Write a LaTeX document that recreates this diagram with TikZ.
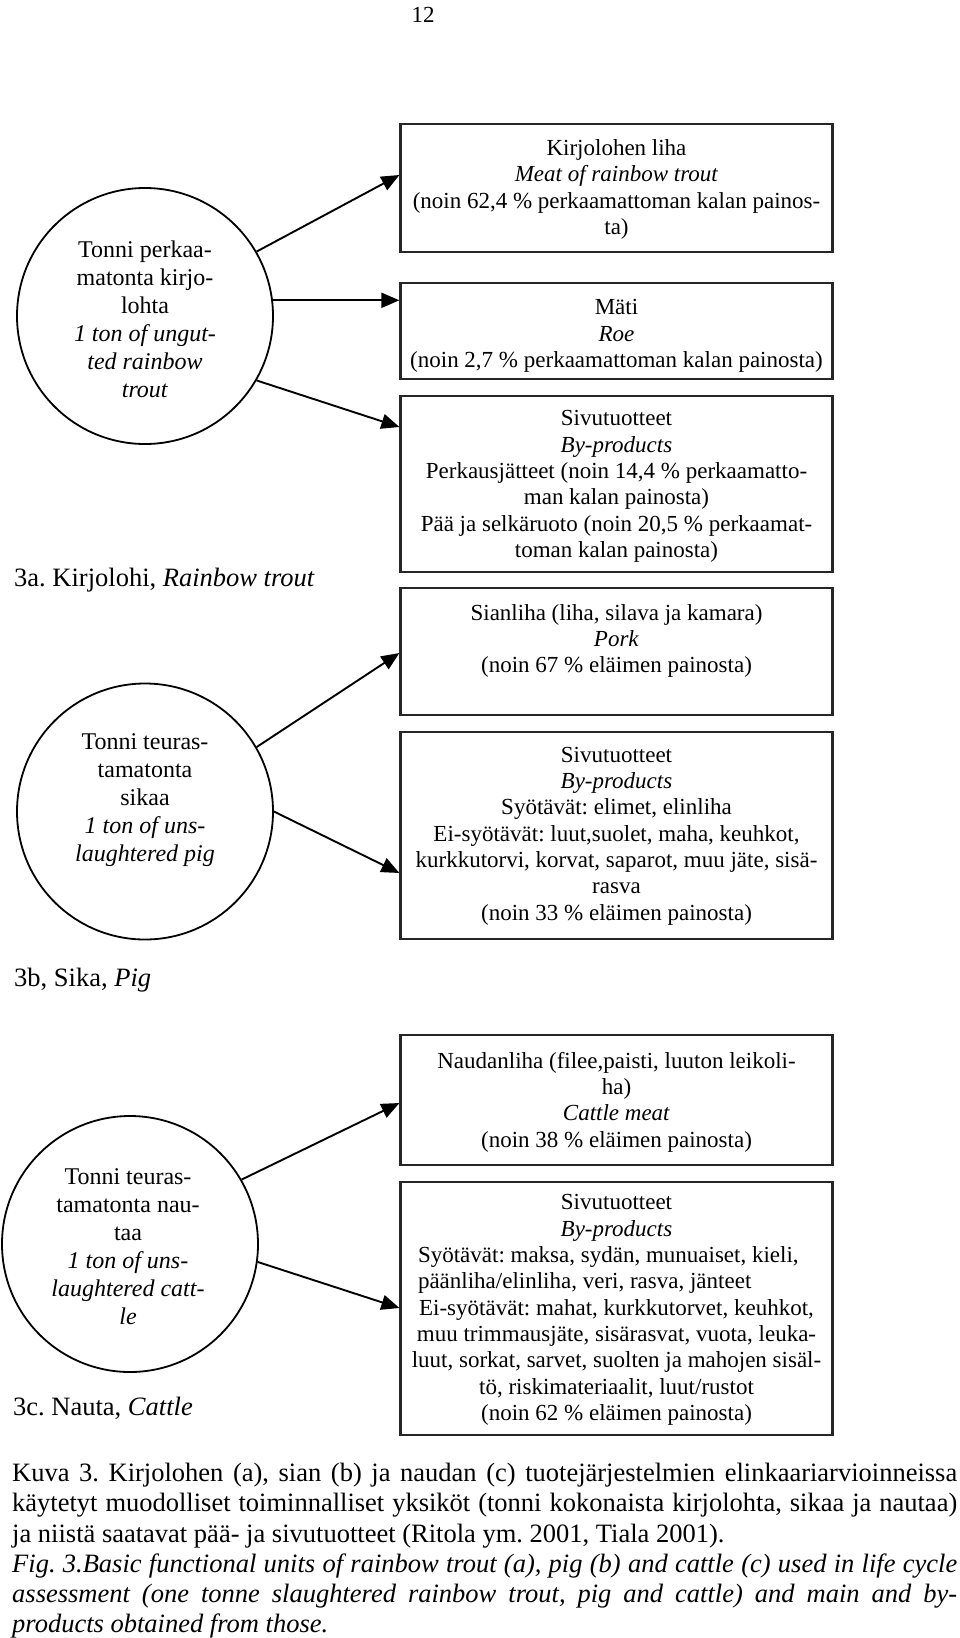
\documentclass[tikz,border=0pt]{standalone}
\usepackage{fontspec}
\setmainfont{Liberation Serif}
\usetikzlibrary{arrows.meta}
\frenchspacing
\tikzset{
  unitcircle/.style={circle, draw, line width=1.8pt, minimum size=256pt, inner sep=0pt},
  prodbox/.style={rectangle, draw=black!85, line width=2.2pt, minimum width=432pt, inner sep=0pt},
  boxtext/.style={align=center, inner sep=0pt, font=\fontsize{23}{26.3}\selectfont},
  circtext/.style={align=center, inner sep=0pt, font=\fontsize{24}{28}\selectfont},
  lbl/.style={anchor=west, inner sep=0pt, font=\fontsize{26.5}{30}\selectfont},
  flow/.style={line width=1.9pt, -{Triangle[length=18pt,width=15pt]}},
}
\begin{document}
\begin{tikzpicture}[x=1pt,y=-1pt]
\useasboundingbox (0,0) rectangle (960,1638);

% page number
\node[inner sep=0pt, font=\fontsize{23}{26}\selectfont] (pg) at (423,14.5) {12};

% ---------- 3a trout ----------
\node[unitcircle] (c1) at (145,316) {};
\node[circtext] (c1t) at (145,319) {Tonni perkaa-\\matonta kirjo-\\lohta\\\textit{1 ton of ungut-}\\\textit{ted rainbow}\\\textit{trout}};
\node[lbl] (la) at (14,580) {3a. Kirjolohi, \textit{Rainbow trout}};

\node[prodbox, minimum height=128pt] (b1) at (616.5,188) {};
\node[boxtext] (b1t) at (616.5,189.5) {Kirjolohen liha\\\textit{Meat of rainbow trout}\\(noin 62,4 \% perkaamattoman kalan painos-\\ta)};

\node[prodbox, minimum height=96pt] (b2) at (616.5,331) {};
\node[boxtext] (b2t) at (616.5,336) {Mäti\\\textit{Roe}\\(noin 2,7 \% perkaamattoman kalan painosta)};

\node[prodbox, minimum height=176pt] (b3) at (616.5,484) {};
\node[boxtext] (b3t) at (616.5,486.5) {Sivutuotteet\\\textit{By-products}\\Perkausjätteet (noin 14,4 \% perkaamatto-\\man kalan painosta)\\Pää ja selkäruoto (noin 20,5 \% perkaamat-\\toman kalan painosta)};

\draw[flow] (c1.30) -- ([yshift=13pt]b1.west);
\draw[flow] (c1.7) -- (c1.7 -| b2.west);
\draw[flow] (c1.-30) -- ([yshift=57pt]b3.west);

% ---------- 3b pig ----------
\node[unitcircle] (c2) at (145,811.5) {};
\node[circtext] (c2t) at (145,800) {Tonni teuras-\\tamatonta\\sikaa\\\textit{1 ton of uns-}\\\textit{laughtered pig}};
\node[lbl] (lb) at (14,980) {3b, Sika, \textit{Pig}};

\node[prodbox, minimum height=127pt] (b4) at (616.5,651.5) {};
\node[boxtext] (b4t) at (616.5,641) {Sianliha (liha, silava ja kamara)\\\textit{Pork}\\(noin 67 \% eläimen painosta)};

\node[prodbox, minimum height=207pt] (b5) at (616.5,835.5) {};
\node[boxtext] (b5t) at (616.5,836) {Sivutuotteet\\\textit{By-products}\\Syötävät: elimet, elinliha\\Ei-syötävät: luut,suolet, maha, keuhkot,\\kurkkutorvi, korvat, saparot, muu jäte, sisä-\\rasva\\(noin 33 \% eläimen painosta)};

\draw[flow] (c2.30) -- ([yshift=-1.5pt]b4.west);
\draw[flow] (c2.0) -- ([yshift=-37.5pt]b5.west);

% ---------- 3c cattle ----------
\node[unitcircle] (c3) at (130,1244) {};
\node[circtext] (c3t) at (128,1247) {Tonni teuras-\\tamatonta nau-\\taa\\\textit{1 ton of uns-}\\\textit{laughtered catt-}\\\textit{le}};
\node[lbl] (lc) at (13,1408) {3c. Nauta, \textit{Cattle}};

\node[prodbox, minimum height=130pt] (b6) at (616.5,1100) {};
\node[boxtext] (b6t) at (616.5,1102) {Naudanliha (filee,paisti, luuton leikoli-\\ha)\\\textit{Cattle meat}\\(noin 38 \% eläimen painosta)};

\node[prodbox, minimum height=253pt] (b7) at (616.5,1308.5) {};
\node[boxtext] (b7t) at (616.5,1310) {Sivutuotteet\\\textit{By-products}\\\makebox[397pt][l]{Syötävät: maksa, sydän, munuaiset, kieli,}\\\makebox[397pt][l]{päänliha/elinliha, veri, rasva, jänteet}\\Ei-syötävät: mahat, kurkkutorvet, keuhkot,\\muu trimmausjäte, sisärasvat, vuota, leuka-\\luut, sorkat, sarvet, suolten ja mahojen sisäl-\\tö, riskimateriaalit, luut/rustot\\(noin 62 \% eläimen painosta)};

\draw[flow] (c3.30) -- ([yshift=-3pt]b6.west);
\draw[flow] (c3.-8) -- ([yshift=0.5pt]b7.west);

% ---------- caption ----------
\node[lbl] (k1) at (12,1475) {\makebox[945pt][s]{Kuva 3. Kirjolohen (a), sian (b) ja naudan (c) tuotejärjestelmien elinkaariarvioinneissa}};
\node[lbl] (k2) at (12,1505) {\makebox[945pt][s]{käytetyt muodolliset toiminnalliset yksiköt (tonni kokonaista kirjolohta, sikaa ja nautaa)}};
\node[lbl] (k3) at (12,1536) {ja niistä saatavat pää- ja sivutuotteet (Ritola ym. 2001, Tiala 2001).};
\node[lbl] (k4) at (12,1566) {\itshape\makebox[945pt][s]{Fig. 3.Basic functional units of rainbow trout (a), pig (b) and cattle (c) used in life cycle}};
\node[lbl] (k5) at (12,1596) {\itshape\makebox[945pt][s]{assessment (one tonne slaughtered rainbow trout, pig and cattle) and main and by-}};
\node[lbl] (k6) at (12,1626) {\itshape products obtained from those.};
\end{tikzpicture}
\end{document}
